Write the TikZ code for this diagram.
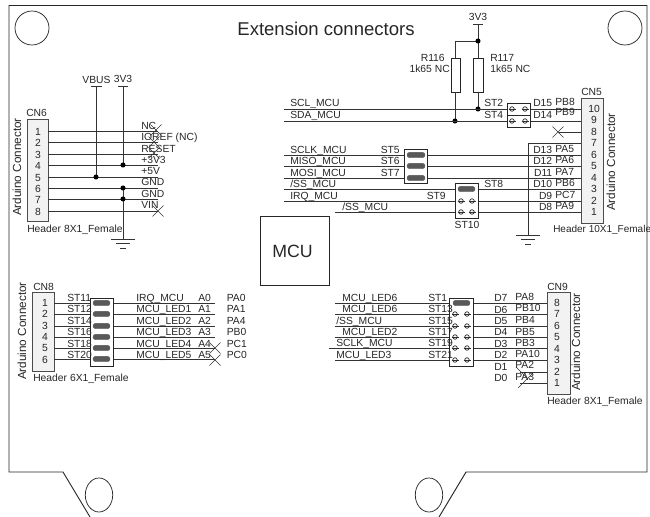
\documentclass[tikz,border=0pt]{standalone}
\usepackage{fontspec}
\setmainfont{Liberation Sans}
\tikzset{
  x=0.75pt,y=-0.75pt,
  wire/.style={line width=0.6pt,black!80},
  frame/.style={line width=0.7pt,black!85},
  thin shape/.style={line width=0.55pt,black!85},
  lab/.style={font=\fontsize{7.75pt}{8pt}\selectfont,inner sep=0pt,text=black!85},
  tag/.style={lab,anchor=base west},
  tagr/.style={lab,anchor=base east},
  tagc/.style={lab,anchor=base},
  vlab/.style={font=\fontsize{8.8pt}{9pt}\selectfont,inner sep=0pt,text=black!85,rotate=90},
  conbox/.style={draw=black!70,fill=black!5,line width=0.7pt},
  junction/.style={circle,fill=black,inner sep=0pt,minimum size=3.8pt},
  shorted/.style={fill=black!65,draw=black!65,rounded corners=2pt,line width=0.3pt},
  pin/.style={circle,draw=black!85,line width=0.5pt,inner sep=0pt,minimum size=3.4pt},
  nc/.style={line width=0.45pt,black!80},
}
\newcommand{\gnd}[2]{%
  \draw[wire] (#1-12,#2) -- (#1+12,#2);
  \draw[wire] (#1-7,#2+4) -- (#1+7,#2+4);
  \draw[wire] (#1-3,#2+9) -- (#1+3,#2+9);
}
\newcommand{\ncx}[2]{\draw[nc] (#1-5.5,#2-5.5) -- (#1+5.5,#2+5.5) (#1-5.5,#2+5.5) -- (#1+5.5,#2-5.5);}
\newcommand{\jshort}[3]{\draw[shorted] (#1,#3-2.7) rectangle (#2,#3+2.7);}
\newcommand{\jopen}[3]{%
  \draw[wire] (#1-3.5,#3) -- (#1+3.5,#3) (#2-3.5,#3) -- (#2+3.5,#3);
  \node[pin] at (#1,#3) {}; \node[pin] at (#2,#3) {};}
\begin{document}
\begin{tikzpicture}
\useasboundingbox (0,0) rectangle (650,517);
% board outline
\draw[frame] (90,517) -- (63,472) -- (9,472) -- (9,5.5) -- (647,5.5) -- (647,472) -- (466,472) -- (439,517);
\draw[thin shape] (32,28) circle [radius=17];
\draw[thin shape] (625,28) circle [radius=17];
\draw[thin shape] (99,495) ellipse [x radius=13.7,y radius=17];
\draw[thin shape] (429,495) ellipse [x radius=13.7,y radius=17];
\node[lab,font=\fontsize{13.9pt}{14pt}\selectfont,anchor=base] (title) at (326,36) {Extension connectors};

% CN6
\draw[conbox] (27,119) rectangle (48,221);
\node[tag] (cn6) at (26,117) {CN6};
\node[vlab] (ac6) at (17,167) {Arduino Connector};
\node[tag] (h6) at (27,232) {Header 8X1\_Female};
\foreach \n/\y in {1/131,2/142,3/154,4/165,5/177,6/188,7/199,8/211}{
  \draw[wire] (48,\y) -- (158,\y);
  \node[lab] at (38,\y+0.5) {\n};
}
\foreach \t/\y in {NC/129,IOREF (NC)/140,RESET/152,+3V3/163,+5V/174,GND/185,GND/197,VIN/208}{
  \node[tag] at (141,\y) {\t};
}
\ncx{156}{130}\ncx{154}{142}\ncx{154}{153}\ncx{158}{211}
\node[tagc] (vbus) at (96.5,84) {VBUS};
\node[tagc] (v33a) at (123,83) {3V3};
\draw[wire] (91,86) -- (102,86);
\draw[wire] (118,86) -- (128,86);
\draw[wire] (96,86) -- (96,177);
\draw[wire] (123,86) -- (123,165);
\draw[wire] (123,188) -- (123,239);
\node[junction] at (96,177) {};
\node[junction] at (123,165) {};
\node[junction] at (123,188) {};
\node[junction] at (123,199) {};
\gnd{123}{239}

% R116 / R117
\node[tagc] (v33b) at (478,21) {3V3};
\draw[wire] (473,24) -- (483,24);
\draw[wire] (478,24) -- (478,58);
\draw[wire] (455,41) -- (478,41);
\draw[wire] (455,41) -- (455,58);
\draw[thin shape,fill=white] (451,58) rectangle (460,92);
\draw[thin shape,fill=white] (473,58) rectangle (483,92);
\draw[wire] (455,92) -- (455,121);
\draw[wire] (478,92) -- (478,109);
\node[junction] at (478,41) {};
\node[junction] at (455,121) {};
\node[junction] at (478,109) {};
\node[tagr] at (445,62) {R116};
\node[tagr] at (450,73) {1k65 NC};
\node[tag] at (490,62) {R117};
\node[tag] at (490,73) {1k65 NC};

% CN5
\draw[conbox] (581,98) rectangle (603,223);
\node[tag] (cn5) at (581,96) {CN5};
\node[vlab] at (611,162) {Arduino Connector};
\node[lab,anchor=base west,font=\fontsize{7.5pt}{8pt}\selectfont] at (553,232) {Header 10X1\_Female};
\foreach \n/\y in {10/109,9/120,8/132,7/143,6/155,5/166,4/178,3/189,2/201,1/212}{
  \node[lab] at (594,\y) {\n};
}
\draw[wire] (284,109) -- (581,109);
\draw[wire] (284,121) -- (581,121);
\draw[wire] (559,132) -- (581,132);
\ncx{558}{132}
\draw[wire] (528,143) -- (581,143);
\draw[wire] (528,143) -- (528,235);
\gnd{528}{235}
\draw[wire] (284,155) -- (581,155);
\draw[wire] (284,166) -- (581,166);
\draw[wire] (284,178) -- (581,178);
\draw[wire] (284,189) -- (581,189);
\draw[wire] (284,201) -- (581,201);
\draw[wire] (335,212) -- (581,212);
\foreach \t/\x/\y in {SCL\_MCU/290/107,SDA\_MCU/290/118,SCLK\_MCU/290/153,MISO\_MCU/290/164,MOSI\_MCU/290/176,{/SS\_MCU}/290/187,IRQ\_MCU/290/199,{/SS\_MCU}/342/210}{
  \node[tag] at (\x,\y) {\t};
}
\foreach \t/\x/\y in {ST2/484/107,ST4/484/118}{\node[tag] at (\x,\y) {\t};}
\foreach \t/\x/\y in {ST5/400/153,ST6/400/164,ST7/400/176,ST9/446/199}{\node[tagr] at (\x,\y) {\t};}
\node[tag] at (484,187) {ST8};
\node[tagc] at (467,228) {ST10};
% jumpers right
\draw[thin shape,fill=white] (507,103) rectangle (530,127);
\draw[thin shape] (507,115) -- (530,115);
\jopen{512}{525}{109}\jopen{512}{525}{121}
\draw[thin shape,fill=white] (404,149) rectangle (427,183);
\jshort{407}{425}{155}\jshort{407}{425}{166}\jshort{407}{425}{178}
\draw[thin shape,fill=white] (455,183) rectangle (478,218);
\jshort{458}{475}{189}\jopen{461}{472}{201}\jopen{461}{472}{212}
\foreach \t/\y in {D15/107,D14/118,D13/153,D12/164,D11/176,D10/187,D9/199,D8/210}{
  \node[tagr] at (552.5,\y) {\t};
}
\foreach \t/\y in {PB8/105,PB9/116,PA5/152,PA6/163,PA7/175,PB6/186,PC7/198,PA9/209}{
  \node[tag] at (555,\y) {\t};
}

% MCU
\draw[thin shape] (260,216) rectangle (329,285);
\node[lab,font=\fontsize{13.3pt}{14pt}\selectfont] (mcu) at (292.5,251) {MCU};

% CN8
\draw[conbox] (32,292) rectangle (54,371);
\node[tag] (cn8) at (33,290) {CN8};
\node[vlab] at (22,331) {Arduino Connector};
\node[tag] at (33,381) {Header 6X1\_Female};
\foreach \n/\y in {1/303,2/314,3/326,4/337,5/348,6/360}{\node[lab] at (45,\y) {\n};}
\foreach \y in {303,314,326,337,348,359}{\draw[wire] (54,\y) -- (215,\y);}
\ncx{215}{348}\ncx{215}{360}
\draw[thin shape,fill=white] (90,298) rectangle (113,366);
\foreach \y in {303,314,326,337,348,359}{\jshort{93}{110}{\y}}
\foreach \t/\y in {ST11/301,ST12/312,ST14/324,ST16/335,ST18/347,ST20/358}{\node[tag] at (67,\y) {\t};}
\foreach \t/\a/\p/\y in {IRQ\_MCU/A0/PA0/301,MCU\_LED1/A1/PA1/312,MCU\_LED2/A2/PA4/324,MCU\_LED3/A3/PB0/335,MCU\_LED4/A4/PC1/347,MCU\_LED5/A5/PC0/358}{
  \node[tag] at (136,\y) {\t};
  \node[tag] at (198,\y) {\a};
  \node[tag] at (226.5,\y) {\p};
}

% CN9
\draw[conbox] (547,292) rectangle (570,394);
\node[tag] (cn9) at (547,290) {CN9};
\node[vlab] at (576,342) {Arduino Connector};
\node[tag] at (547,404) {Header 8X1\_Female};
\foreach \n/\y in {8/303,7/314,6/326,5/337,4/349,3/360,2/372,1/383}{\node[lab] at (557,\y) {\n};}
\foreach \y in {303,314,326,337,360}{\draw[wire] (335,\y) -- (547,\y);}
\draw[wire] (329,348) -- (547,348);
\draw[wire] (520,372) -- (547,372);
\draw[wire] (520,383) -- (547,383);
\draw[nc] (516,367) -- (527,378) (518,388) -- (533,373);
\draw[thin shape,fill=white] (449,298) rectangle (473,366);
\jshort{453}{470}{303}
\foreach \y in {314,326,337,348,360}{\jopen{455}{467}{\y}}
\foreach \t/\x/\y in {MCU\_LED6/342/301,MCU\_LED6/342/312,{/SS\_MCU}/336/324,MCU\_LED2/342/335,SCLK\_MCU/336/346,MCU\_LED3/336/358}{\node[tag] at (\x,\y) {\t};}
\foreach \t/\y in {ST1/301,ST13/312,ST15/324,ST17/335,ST19/346,ST21/358}{\node[tag] at (428,\y) {\t};}
\foreach \t/\y in {D7/301,D6/313,D5/324,D4/335,D3/347,D2/358,D1/370,D0/381}{\node[tag] at (494,\y) {\t};}
\foreach \t/\y in {PA8/300,PB10/311,PB4/323,PB5/335,PB3/346,PA10/357,PA2/368,PA3/380}{\node[tag] at (515,\y) {\t};}
\end{tikzpicture}
\end{document}
